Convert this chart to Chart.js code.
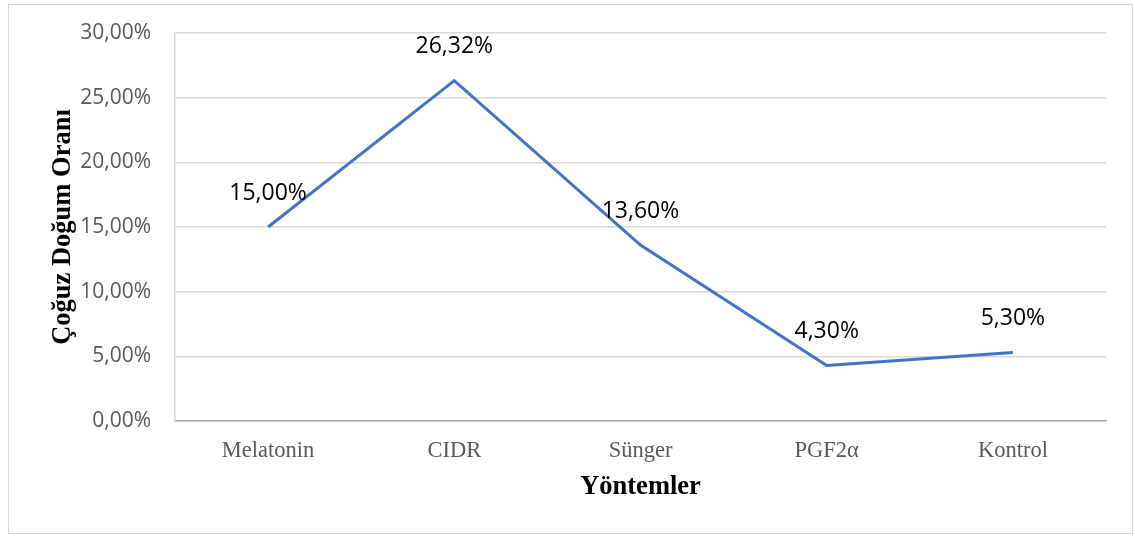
<!DOCTYPE html>
<html>
<head>
<meta charset="utf-8">
<script src="https://cdn.jsdelivr.net/npm/chart.js@4"></script>
<style>
  html, body { margin: 0; padding: 0; background: #fff; }
  #frame { position: absolute; left: 8px; top: 4px; width: 1125px; height: 530px; border: 1px solid #d9d9d9; box-sizing: border-box; }
  #wrap { position: absolute; left: 0; top: 0; width: 1135px; height: 538px; }
</style>
</head>
<body>
<div id="frame"></div>
<div id="wrap"><canvas id="chart"></canvas></div>
<script>
// chart data
const methods = ['Melatonin', 'CIDR', 'Sünger', 'PGF2α', 'Kontrol'];
const twinRate = [0.15, 0.2632, 0.136, 0.043, 0.053];
const yTicks = [0, 0.05, 0.10, 0.15, 0.20, 0.25, 0.30];

const pct = v => (v * 100).toFixed(2).replace('.', ',') + '%';

// draws the value above each point
const valueLabels = {
    id: 'valueLabels',
    afterDatasetsDraw(chart) {
        const ctx = chart.ctx;
        const meta = chart.getDatasetMeta(0);
        ctx.save();
        ctx.font = '23px "Open Sans"';
        ctx.fillStyle = '#000';
        ctx.textAlign = 'center';
        ctx.textBaseline = 'middle';
        meta.data.forEach((pt, i) => {
            ctx.fillText(pct(twinRate[i]), pt.x, pt.y - 34);
        });
        ctx.restore();
    }
};

new Chart(document.getElementById('chart'), {
    type: 'line',
    data: {
        labels: methods,
        datasets: [{
            data: twinRate,
            borderColor: '#4472c4',
            borderWidth: 3,
            pointRadius: 0,
            fill: false,
            tension: 0
        }]
    },
    options: {
        responsive: true,
        maintainAspectRatio: false,
        animation: false,
        layout: { padding: { top: 33, right: 29, bottom: 35, left: 47 } },
        plugins: { legend: { display: false }, tooltip: { enabled: false } },
        scales: {
            x: {
                offset: true,
                grid: { display: false, drawTicks: false, offset: true },
                border: { display: true, color: '#a6a6a6', width: 1.5 },
                ticks: { color: '#595959', font: { family: '"Liberation Serif"', size: 22.5 }, padding: 17 },
                title: { display: true, text: 'Yöntemler', color: '#000', padding: 0,
                         font: { family: '"Liberation Serif"', size: 26.5, weight: 'bold' } },
                afterFit: s => { s.height = 82; }
            },
            y: {
                min: 0,
                max: 0.3,
                afterBuildTicks: s => { s.ticks = yTicks.map(v => ({ value: v })); },
                // invisible tick marks give the label gap without padding the top
                grid: { color: '#d9d9d9', lineWidth: 1.5, drawTicks: true, tickLength: 20, tickColor: 'rgba(0,0,0,0)' },
                border: { display: true, color: '#d9d9d9', width: 1.5 },
                ticks: { color: '#595959', font: { family: '"Open Sans"', size: 21 }, padding: 4, callback: v => pct(v) },
                title: { display: true, text: 'Çoğuz Doğum Oranı', color: '#000', padding: 0,
                         font: { family: '"Liberation Serif"', size: 26.5, weight: 'bold' } },
                afterFit: s => { s.width = 128; }
            }
        }
    },
    plugins: [valueLabels]
});
</script>
</body>
</html>
